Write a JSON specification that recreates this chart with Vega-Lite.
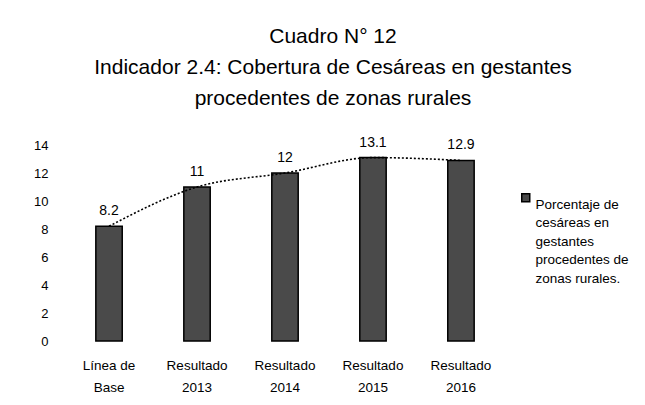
{
  "$schema": "https://vega.github.io/schema/vega-lite/v6.json",
  "width": 454,
  "height": 196,
  "autosize": {"type": "none"},
  "padding": {"left": 58, "top": 145, "right": 133, "bottom": 64},
  "background": "white",
  "config": {
    "view": {"stroke": null},
    "font": "Liberation Sans",
    "style": {"guide-label": {"lineHeight": 18.5}}
  },
  "title": {
    "text": ["Cuadro N° 12", "Indicador 2.4: Cobertura de Cesáreas en gestantes", "procedentes de zonas rurales"],
    "fontSize": 21,
    "fontWeight": "normal",
    "font": "Liberation Sans",
    "lineHeight": 31,
    "anchor": "middle",
    "frame": "group",
    "dx": 48,
    "offset": 27,
    "color": "black"
  },
  "data": {
    "values": [
      {"categoria": "Línea de|Base", "valor": 8.2, "serie": "Porcentaje de cesáreas en gestantes procedentes de zonas rurales."},
      {"categoria": "Resultado|2013", "valor": 11, "serie": "Porcentaje de cesáreas en gestantes procedentes de zonas rurales."},
      {"categoria": "Resultado|2014", "valor": 12, "serie": "Porcentaje de cesáreas en gestantes procedentes de zonas rurales."},
      {"categoria": "Resultado|2015", "valor": 13.1, "serie": "Porcentaje de cesáreas en gestantes procedentes de zonas rurales."},
      {"categoria": "Resultado|2016", "valor": 12.9, "serie": "Porcentaje de cesáreas en gestantes procedentes de zonas rurales."}
    ]
  },
  "encoding": {
    "x": {
      "field": "categoria",
      "type": "nominal",
      "sort": null,
      "scale": {"paddingInner": 0.7, "paddingOuter": 0.43},
      "axis": {
        "title": null,
        "labelAngle": 0,
        "labelExpr": "split(datum.value, '|')",
        "labelFontSize": 13.5,
        "labelLineHeight": 22,
        "labelColor": "black",
        "labelPadding": 17,
        "ticks": false,
        "domain": false
      }
    },
    "y": {
      "field": "valor",
      "type": "quantitative",
      "scale": {"domain": [0, 14]},
      "axis": {
        "title": null,
        "values": [0, 2, 4, 6, 8, 10, 12, 14],
        "grid": false,
        "ticks": false,
        "domain": false,
        "labelFontSize": 13,
        "labelColor": "black",
        "labelPadding": 10
      }
    }
  },
  "layer": [
    {
      "mark": {"type": "bar", "stroke": "black", "strokeWidth": 1.5},
      "encoding": {
        "color": {
          "field": "serie",
          "type": "nominal",
          "scale": {"range": ["#4a4a4a"]},
          "legend": {
            "title": null,
            "orient": "none",
            "legendX": 461,
            "legendY": 46,
            "symbolType": "square",
            "symbolSize": 64,
            "symbolStrokeColor": "black",
            "labelExpr": "['Porcentaje de', 'cesáreas en', 'gestantes', 'procedentes de', 'zonas rurales.']",
            "labelFontSize": 13.5,
            "labelColor": "black",
            "labelBaseline": "top",
            "labelOffset": 3,
            "labelLimit": 200
          }
        }
      }
    },
    {
      "mark": {"type": "line", "color": "black", "strokeDash": [2, 2], "strokeWidth": 1.6, "interpolate": "monotone"},
      "encoding": {}
    },
    {
      "mark": {"type": "text", "baseline": "bottom", "dy": -8, "fontSize": 14, "color": "black"},
      "encoding": {"text": {"field": "valor", "type": "quantitative"}}
    }
  ]
}
